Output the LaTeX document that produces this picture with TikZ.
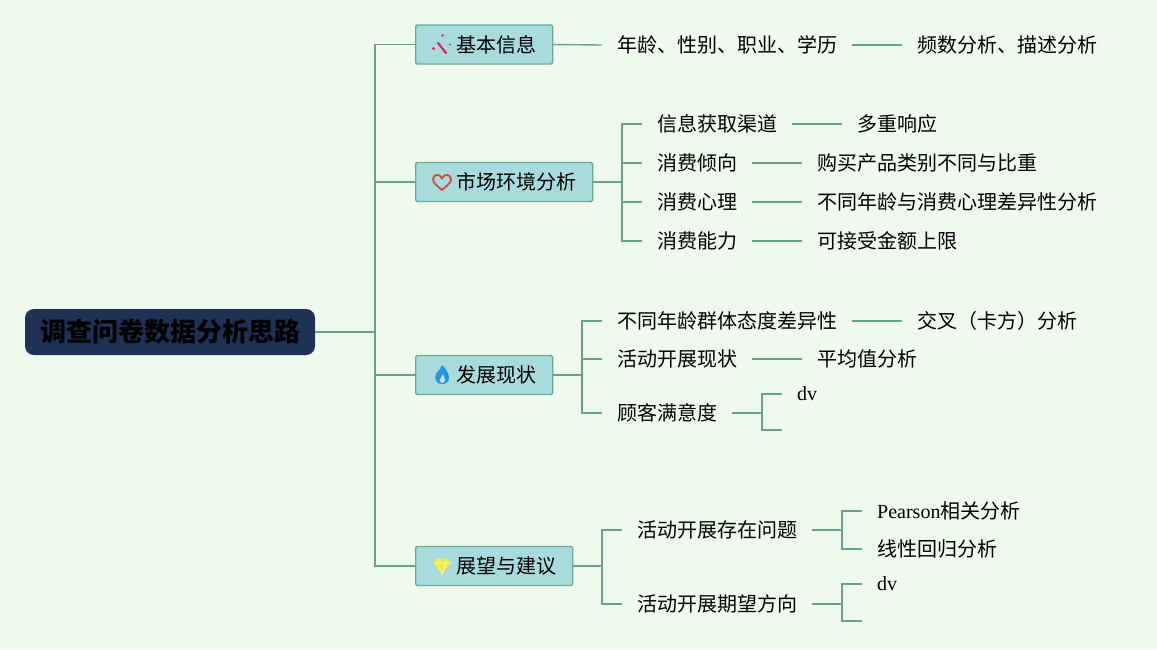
\documentclass[tikz,border=0pt]{standalone}
\usepackage{fontspec}
\setmainfont{Noto Sans CJK SC}
\newfontfamily\latinfont{Liberation Serif}
\usetikzlibrary{positioning}

\definecolor{bgcol}{RGB}{240,249,238}
\definecolor{linecol}{RGB}{104,162,142}
\definecolor{boxfill}{RGB}{169,219,221}
\definecolor{boxdraw}{RGB}{106,170,150}
\definecolor{rootfill}{RGB}{31,49,84}
\definecolor{wandcol}{RGB}{222,40,100}
\definecolor{heartcol}{RGB}{208,76,60}
\definecolor{flamecol}{RGB}{40,150,225}
\definecolor{gemcol}{RGB}{236,236,70}

\tikzset{
  rootbox/.style={fill=rootfill, rounded corners=9pt, minimum width=290pt, minimum height=46pt, inner sep=0pt, font=\fontsize{26}{26}\selectfont\bfseries},
  topic/.style={draw=boxdraw, fill=boxfill, line width=1.3pt, rounded corners=1.5pt, minimum height=39pt, inner xsep=16pt, inner ysep=0pt, anchor=west, font=\fontsize{20}{20}\selectfont},
  leaf/.style={inner xsep=15pt, inner ysep=2pt, anchor=west, font=\fontsize{20}{20}\selectfont},
  link/.style={draw=linecol, line width=1.4pt},
  wandicon/.pic={
    \draw[wandcol, line width=2.2pt, line cap=round] (-4,-1.5) -- (4,8.5);
    \fill[wandcol] (0.5,-9) circle (1.4) (-8.5,4) circle (1.6) (8,0) circle (1.1);
  },
  hearticon/.pic={
    \draw[heartcol, line width=1.8pt, line join=round]
      (0,8) .. controls (-4,4.5) and (-9,1) .. (-9,-2.5)
      .. controls (-9,-8) and (-2,-9) .. (0,-3.5)
      .. controls (2,-9) and (9,-8) .. (9,-2.5)
      .. controls (9,1) and (4,4.5) .. cycle;
  },
  flameicon/.pic={
    \fill[flamecol] (0,9) .. controls (-6,9) and (-8,4) .. (-6,-1)
      .. controls (-5,-3) and (-2,-5) .. (0,-10)
      .. controls (4,-6) and (7,-2) .. (7,3)
      .. controls (7,7) and (4,9) .. cycle;
    \fill[white!70!flamecol] (0,8) .. controls (-2.5,8) and (-3,5) .. (-1.5,3)
      .. controls (-0.5,2) and (0,1) .. (0.5,-1)
      .. controls (2,1) and (3,3) .. (3,5)
      .. controls (3,7) and (1.5,8) .. cycle;
  },
  gemicon/.pic={
    \fill[gemcol] (-9,-3) -- (-5,-7.5) -- (5,-7.5) -- (9,-3) -- (0,8) -- cycle;
    \draw[white!55!gemcol, line width=0.8pt] (-9,-3) -- (9,-3)
      (-3,-7.5) -- (-4.5,-3) -- (0,8) -- (4.5,-3) -- (3,-7.5);
  },
}

\begin{document}
\begin{tikzpicture}[x=1pt,y=-1pt]
  \fill[bgcol] (0,0) rectangle (1157,649);
  \useasboundingbox (0,0) rectangle (1157,649);

  %---------------------
  % root
  %---------------------
  \node[rootbox] (root) at (170,332) {调查问卷数据分析思路};
  \coordinate (trunk) at (375,332);

  % T1
  \node[topic] (b1) at (415,44.5) {\hspace{25pt}基本信息};
  \node[topic] (b2) at (415,182) {\hspace{25pt}市场环境分析};
  \node[topic] (b3) at (415,375) {\hspace{25pt}发展现状};
  \node[topic] (b4) at (415,566) {\hspace{25pt}展望与建议};
  \foreach \b in {b1,b2,b3,b4}
    \draw[link] (root.east) -- (trunk) |- (\b.west);

  % icons
  \pic at ([xshift=27pt]b1.west) {wandicon};
  \pic at ([xshift=27pt]b2.west) {hearticon};
  \pic at ([xshift=27pt]b3.west) {flameicon};
  \pic at ([xshift=27pt]b4.west) {gemicon};

  %---------------------
  % basic info
  %---------------------
  \node[leaf] (a1) at (602,45) {年龄、性别、职业、学历};
  \node[leaf] (a2) at (902,45) {频数分析、描述分析};
  \draw[link] (b1.east) -- (a1.west);
  \draw[link] (a1.east) -- (a2.west);

  %---------------------
  % market
  %---------------------
  \coordinate (m) at (622,182);
  \node[leaf] (m1) at (642,124) {信息获取渠道};
  \node[leaf] (m2) at (642,163) {消费倾向};
  \node[leaf] (m3) at (642,202) {消费心理};
  \node[leaf] (m4) at (642,241) {消费能力};
  \node[leaf] (n1) at (842,124) {多重响应};
  \node[leaf] (n2) at (802,163) {购买产品类别不同与比重};
  \node[leaf] (n3) at (802,202) {不同年龄与消费心理差异性分析};
  \node[leaf] (n4) at (802,241) {可接受金额上限};
  \foreach \i in {1,...,4} {
    \draw[link] (b2.east) -- (m) |- (m\i.west);
    \draw[link] (m\i.east) -- (n\i.west);
  }

  %---------------------
  % status
  %---------------------
  \coordinate (f) at (582,375);
  \node[leaf] (f1) at (602,321) {不同年龄群体态度差异性};
  \node[leaf] (f2) at (602,359) {活动开展现状};
  \node[leaf] (f3) at (602,413) {顾客满意度};
  \foreach \i in {1,2,3}
    \draw[link] (b3.east) -- (f) |- (f\i.west);
  \node[leaf] (h1) at (902,321) {交叉（卡方）分析};
  \node[leaf] (h2) at (802,359) {平均值分析};
  \draw[link] (f1.east) -- (h1.west);
  \draw[link] (f2.east) -- (h2.west);

  % satisfaction
  \coordinate (g) at (762,413);
  \node[leaf] (g1) at (782,394) {\latinfont dv};
  \coordinate (g2) at (782,430);
  \draw[link] (f3.east) -- (g) |- (g1.west);
  \draw[link] (g) |- (g2);

  %---------------------
  % outlook
  %---------------------
  \coordinate (z) at (602,566);
  \node[leaf] (z1) at (622,530) {活动开展存在问题};
  \node[leaf] (z2) at (622,604) {活动开展期望方向};
  \draw[link] (b4.east) -- (z) |- (z1.west);
  \draw[link] (z) |- (z2.west);

  % problems
  \coordinate (p) at (842,530);
  \node[leaf] (p1) at (862,511) {{\latinfont Pearson}相关分析};
  \node[leaf] (p2) at (862,549) {线性回归分析};
  \draw[link] (z1.east) -- (p) |- (p1.west);
  \draw[link] (p) |- (p2.west);

  % direction
  \coordinate (q) at (842,604);
  \node[leaf] (q1) at (862,584) {\latinfont dv};
  \coordinate (q2) at (862,621);
  \draw[link] (z2.east) -- (q) |- (q1.west);
  \draw[link] (q) |- (q2);
\end{tikzpicture}
\end{document}
